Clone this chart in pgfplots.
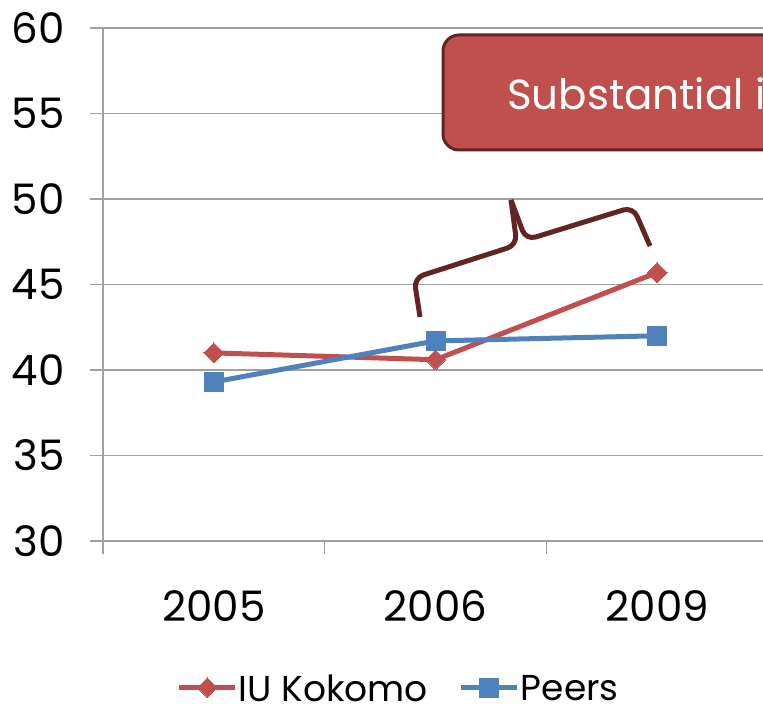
\documentclass[border=0pt]{standalone}
\usepackage{fontspec}
\setmainfont{Poppins}
\usepackage{pgfplots}
\pgfplotsset{compat=1.18}
\definecolor{iured}{HTML}{C0504D}
\definecolor{peerblue}{HTML}{4F81BD}
\definecolor{darkred}{HTML}{632523}
\definecolor{gridgray}{HTML}{A0A0A0}
\begin{document}
\begin{tikzpicture}[x=1pt,y=1pt]
\path[use as bounding box] (0,0) rectangle (763,711);
\clip (0,0) rectangle (763,711);
\begin{axis}[
  at={(103pt,170pt)}, anchor=south west,
  width=665pt, height=513pt, scale only axis,
  xmin=-0.5, xmax=2.5, ymin=30, ymax=60,
  axis x line*=bottom, axis y line*=left,
  axis line style={gridgray, line width=1.5pt, -},
  xtick={0,1,2}, xticklabels={2005,2006,2009},
  minor xtick={-0.5,0.5,1.5,2.5},
  ytick={30,35,...,60},
  ymajorgrids, major grid style={gridgray, line width=1.5pt},
  tick align=outside,
  major tick length=13pt, minor tick length=13pt,
  major x tick style={draw=none},
  minor x tick style={gridgray, line width=1.5pt},
  y tick style={gridgray, line width=1.5pt},
  /pgf/number format/assume math mode=true,
  ticklabel style={font=\fontsize{42}{48}\selectfont},
  yticklabel style={xshift=-22pt},
  xticklabel style={yshift=-33pt},
  legend style={at={(0.444,-0.286)}, anchor=center, draw=none, fill=none,
    font=\fontsize{36}{40}\selectfont, inner sep=0pt,
    nodes={text depth=0pt, inner sep=1pt},
    /tikz/every even column/.append style={column sep=30pt}},
  legend columns=2,
  legend image code/.code={\draw[mark repeat=2,mark phase=2,#1] plot coordinates {(0pt,0pt) (28pt,0pt) (56pt,0pt)};},
]
\addplot[iured, line width=5pt, mark=square*, mark size=7pt, mark options={rotate=45, line width=0pt}] coordinates {(0,41.0) (1,40.6) (2,45.7)};
\addlegendentry{IU Kokomo}
\addplot[peerblue, line width=5pt, mark=square*, mark size=9.5pt, mark options={line width=0pt}] coordinates {(0,39.3) (1,41.7) (2,42.0)};
\addlegendentry{Peers}
\end{axis}
\draw[darkred, line width=5pt, rounded corners=10pt, line cap=butt]
  (420,394) -- (414,433) -- (517,466) -- (511,511);
\draw[darkred, line width=5pt, rounded corners=10pt, line cap=butt]
  (511,511) -- (526,471) -- (633,504) -- (650,465);
\draw[darkred, fill=iured, line width=3pt, rounded corners=16pt] (443,561) rectangle (1100,676);
\node[anchor=base west, inner sep=0pt, text=white, font=\fontsize{42}{48}\selectfont] at (507,601) {Substantial increase};
\end{tikzpicture}
\end{document}
